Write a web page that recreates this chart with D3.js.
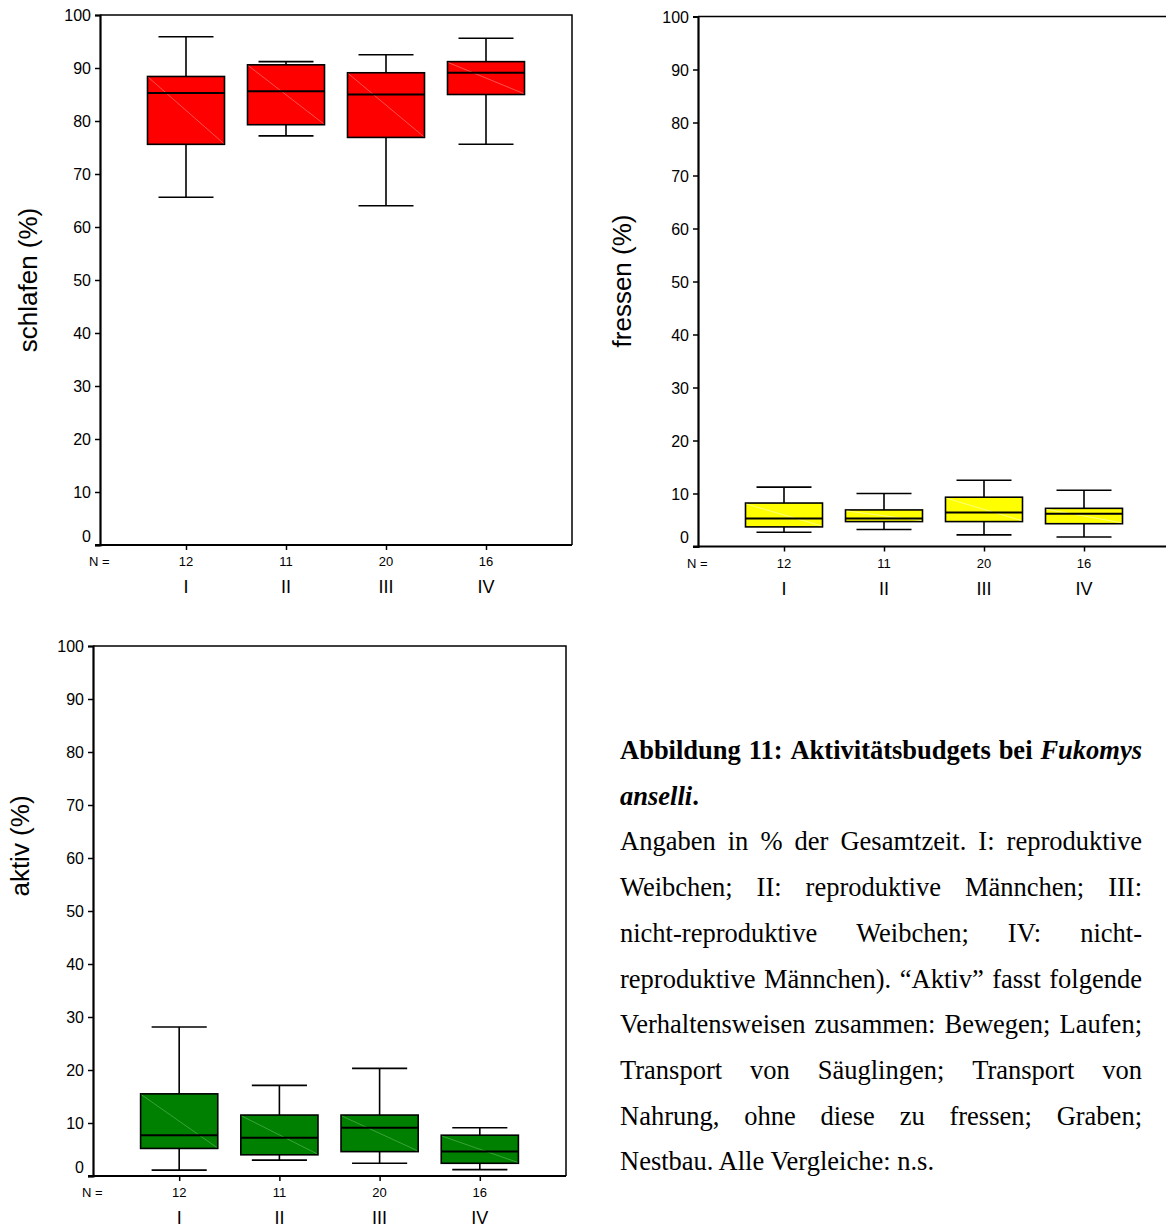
<!DOCTYPE html>
<html>
<head>
<meta charset="utf-8">
<script src="https://cdn.jsdelivr.net/npm/d3@7"></script>
<style>
  html, body { margin: 0; padding: 0; background: #fff; }
  svg { display: block; }
</style>
</head>
<body>
<svg id="fig" width="1166" height="1227"></svg>
<script>
// Groups and sample sizes
const groups = ["I", "II", "III", "IV"];
const nCounts = [12, 11, 20, 16];
const yTicks = [0, 10, 20, 30, 40, 50, 60, 70, 80, 90, 100];

// Five-number summaries per group: [lower whisker, Q1, median, Q3, upper whisker], in %
const schlafen = [
  [65.6, 75.6, 85.3, 88.4, 95.9],
  [77.2, 79.3, 85.6, 90.6, 91.2],
  [64.0, 76.9, 85.0, 89.1, 92.5],
  [75.6, 85.0, 89.1, 91.2, 95.6]
];
const fressen = [
  [2.7, 3.7, 5.3, 8.2, 11.2],
  [3.2, 4.7, 5.3, 6.9, 10.0],
  [2.2, 4.7, 6.4, 9.3, 12.5],
  [1.8, 4.3, 6.2, 7.2, 10.6]
];
const aktiv = [
  [1.1, 5.2, 7.7, 15.5, 28.1],
  [3.0, 4.0, 7.2, 11.5, 17.1],
  [2.4, 4.6, 9.1, 11.5, 20.3],
  [1.2, 2.4, 4.6, 7.7, 9.1]
];

// Caption text
const captionTitle = [
  { t: "Abbildung", s: "b" }, { t: "11:", s: "b" }, { t: "Aktivitätsbudgets", s: "b" },
  { t: "bei", s: "b" }, { t: "Fukomys", s: "bi" }
];
const captionBody = [
  "Angaben in % der Gesamtzeit. I: reproduktive",
  "Weibchen; II: reproduktive Männchen; III:",
  "nicht-reproduktive Weibchen; IV: nicht-",
  "reproduktive Männchen). “Aktiv” fasst folgende",
  "Verhaltensweisen zusammen: Bewegen; Laufen;",
  "Transport von Säuglingen; Transport von",
  "Nahrung, ohne diese zu fressen; Graben;",
  "Nestbau. Alle Vergleiche: n.s."
];

const svg = d3.select("#fig");
const SANS = "'Liberation Sans', Arial, sans-serif";
const SERIF = "'Liberation Serif', 'Times New Roman', serif";

const panels = [
  { title: "schlafen (%)", data: schlafen, fill: "#ff0000", shine: "rgba(255,170,170,0.8)",
    x0: 100, y0: 15, y1: 545, w: 472, titleX: 37, titleY: 280 },
  { title: "fressen (%)", data: fressen, fill: "#ffff00", shine: "rgba(255,255,235,0.9)",
    x0: 698, y0: 16.5, y1: 546.5, w: 472, titleX: 631, titleY: 281 },
  { title: "aktiv (%)", data: aktiv, fill: "#008000", shine: "rgba(110,190,110,0.9)",
    x0: 93, y0: 646, y1: 1176, w: 473, titleX: 29, titleY: 846 }
];

panels.forEach(p => {
  const g = svg.append("g");
  const y = d3.scaleLinear().domain([0, 100]).range([p.y1, p.y0]);
  const x = d3.scalePoint().domain(groups).range([p.x0, p.x0 + p.w]).padding(0.86);
  const step = x.step();
  const boxW = step * 0.77, capW = step * 0.55;

  // frame: top and right edges
  g.append("path")
    .attr("d", `M${p.x0},${p.y0}H${p.x0 + p.w}V${p.y1}`)
    .attr("fill", "none").attr("stroke", "#000").attr("stroke-width", 1.5);

  // y axis
  const yAxis = d3.axisLeft(y).tickValues(yTicks).tickSize(5).tickPadding(4);
  const ya = g.append("g").attr("transform", `translate(${p.x0},0)`).call(yAxis);
  ya.select(".domain").attr("stroke-width", 2.2);
  ya.selectAll(".tick line").attr("stroke-width", 1.5);
  ya.selectAll(".tick text")
    .attr("font-family", SANS).attr("font-size", 16).attr("fill", "#000")
    .attr("dy", d => d === 0 ? "-0.22em" : "0.35em");

  // x axis with category ticks
  const xAxis = d3.axisBottom(x).tickSize(5).tickSizeOuter(0).tickFormat(() => "");
  const xa = g.append("g").attr("transform", `translate(0,${p.y1})`).call(xAxis);
  xa.select(".domain").attr("d", `M${p.x0 - 5},0H${p.x0 + p.w}`).attr("stroke-width", 2.2);
  xa.selectAll(".tick line").attr("stroke-width", 1.5);

  // N row
  g.append("text").attr("x", p.x0 - 11).attr("y", p.y1 + 21)
    .attr("font-family", SANS).attr("font-size", 13).text("N =");
  g.selectAll(".nlab").data(groups).join("text")
    .attr("x", d => x(d)).attr("y", p.y1 + 21).attr("text-anchor", "middle")
    .attr("font-family", SANS).attr("font-size", 13)
    .text((d, i) => nCounts[i]);
  // group labels
  g.selectAll(".glab").data(groups).join("text")
    .attr("x", d => x(d)).attr("y", p.y1 + 48).attr("text-anchor", "middle")
    .attr("font-family", SANS).attr("font-size", 18)
    .text(d => d);

  // y title
  g.append("text")
    .attr("transform", `translate(${p.titleX},${p.titleY}) rotate(-90)`)
    .attr("text-anchor", "middle")
    .attr("font-family", SANS).attr("font-size", 26)
    .text(p.title);

  // box plots
  const bx = g.selectAll(".box").data(p.data).join("g");
  bx.append("line") // whisker stem
    .attr("x1", (d, i) => x(groups[i])).attr("x2", (d, i) => x(groups[i]))
    .attr("y1", d => y(d[0])).attr("y2", d => y(d[4]))
    .attr("stroke", "#000").attr("stroke-width", 1.6);
  bx.append("line") // upper cap
    .attr("x1", (d, i) => x(groups[i]) - capW / 2).attr("x2", (d, i) => x(groups[i]) + capW / 2)
    .attr("y1", d => y(d[4])).attr("y2", d => y(d[4]))
    .attr("stroke", "#000").attr("stroke-width", 1.6);
  bx.append("line") // lower cap
    .attr("x1", (d, i) => x(groups[i]) - capW / 2).attr("x2", (d, i) => x(groups[i]) + capW / 2)
    .attr("y1", d => y(d[0])).attr("y2", d => y(d[0]))
    .attr("stroke", "#000").attr("stroke-width", 1.6);
  bx.append("rect")
    .attr("x", (d, i) => x(groups[i]) - boxW / 2).attr("width", boxW)
    .attr("y", d => y(d[3])).attr("height", d => y(d[1]) - y(d[3]))
    .attr("fill", p.fill).attr("stroke", "#000").attr("stroke-width", 1.6);
  bx.append("line") // faint diagonal sheen across the box
    .attr("x1", (d, i) => x(groups[i]) - boxW / 2 + 1).attr("y1", d => y(d[3]) + 1)
    .attr("x2", (d, i) => x(groups[i]) + boxW / 2 - 1).attr("y2", d => y(d[1]) - 1)
    .attr("stroke", p.shine).attr("stroke-width", 0.6);
  bx.append("line") // median
    .attr("x1", (d, i) => x(groups[i]) - boxW / 2).attr("x2", (d, i) => x(groups[i]) + boxW / 2)
    .attr("y1", d => y(d[2])).attr("y2", d => y(d[2]))
    .attr("stroke", "#000").attr("stroke-width", 2);
});

// Caption block, justified
const capLeft = 620, capRight = 1142, capW = capRight - capLeft;
const capFont = 26.5;
const lineH = 45.7;
let baseY = 759;
const cap = svg.append("g").attr("font-family", SERIF).attr("font-size", capFont).attr("fill", "#000");

function styleText(sel, s) {
  sel.attr("font-weight", s.includes("b") ? "bold" : "normal")
     .attr("font-style", s.includes("i") ? "italic" : "normal");
  return sel;
}
function justifyLine(words, yPos) {
  const nodes = words.map(w => styleText(cap.append("text").attr("y", yPos).text(w.t), w.s || ""));
  const widths = nodes.map(n => n.node().getComputedTextLength());
  const gap = Math.max(4, (capW - d3.sum(widths)) / (words.length - 1));
  let cx = capLeft;
  nodes.forEach((n, i) => { n.attr("x", cx); cx += widths[i] + gap; });
}

justifyLine(captionTitle, baseY);
baseY += lineH;
const l2 = cap.append("text").attr("x", capLeft).attr("y", baseY);
styleText(l2.append("tspan").text("anselli"), "bi");
styleText(l2.append("tspan").text("."), "b");

captionBody.forEach((line, i) => {
  const yPos = baseY + lineH * (i + 1);
  if (i === captionBody.length - 1) {
    cap.append("text").attr("x", capLeft).attr("y", yPos).text(line);
  } else {
    justifyLine(line.split(" ").map(t => ({ t, s: "" })), yPos);
  }
});
</script>
</body>
</html>
